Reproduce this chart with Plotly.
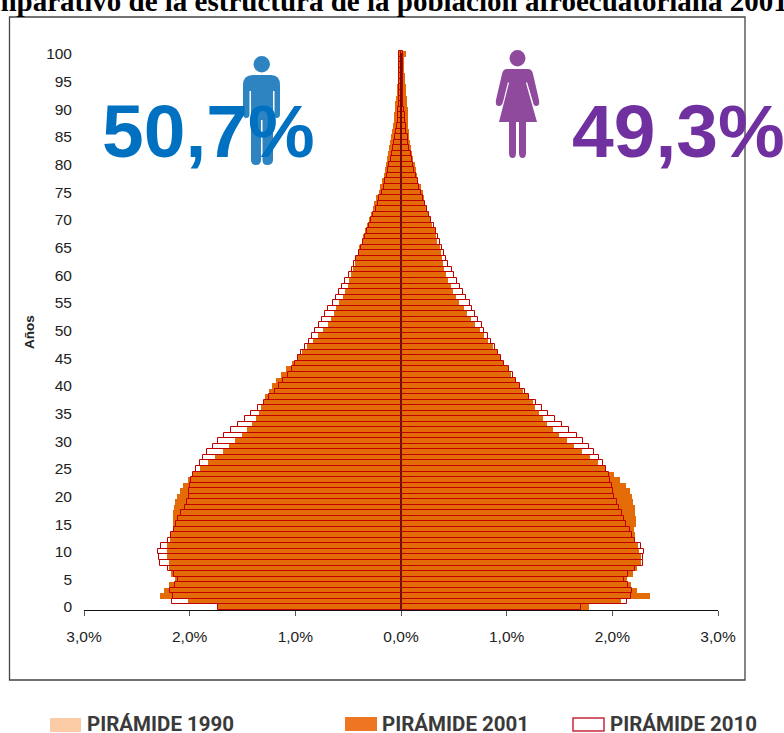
import plotly.graph_objects as go

ages = list(range(0, 101))

hombres_2001 = [1.733,2.017,2.285,2.244,2.2,2.136,2.18,2.2,2.2,2.21,2.21,2.21,2.19,2.178,2.16,2.16,2.16,2.16,2.15,2.14,
 2.12,2.09,2.06,2.02,1.97,1.898,1.829,1.756,1.687,1.624,1.567,1.504,1.454,1.413,1.372,1.34,1.325,1.30,1.283,1.252,
 1.22,1.183,1.138,1.088,1.034,.987,.94,.886,.836,.785,.735,.69,.659,.63,.612,.583,.552,.53,.498,.489,
 .473,.457,.432,.425,.40,.394,.369,.356,.337,.318,.306,.287,.268,.255,.236,.208,.196,.183,.164,.15,
 .14,.133,.125,.115,.104,.095,.082,.076,.069,.063,.06,.054,.047,.041,.035,.028,.022,.019,.016,.016,.032]
mujeres_2001 = [1.78,2.08,2.355,2.235,2.175,2.14,2.2,2.23,2.27,2.27,2.25,2.24,2.21,2.215,2.205,2.22,2.225,2.215,2.21,2.2,
 2.185,2.165,2.128,2.07,2.012,1.94,1.86,1.788,1.71,1.637,1.567,1.498,1.435,1.38,1.34,1.302,1.27,1.246,1.208,1.157,
 1.13,1.078,1.04,1.018,.978,.946,.915,.867,.82,.785,.744,.703,.665,.62,.593,.552,.523,.492,.473,.448,
 .426,.41,.40,.388,.378,.366,.34,.328,.322,.296,.271,.252,.236,.227,.221,.208,.189,.164,.151,.145,
 .136,.117,.104,.098,.088,.079,.073,.066,.066,.066,.063,.06,.054,.047,.047,.041,.038,.032,.032,.032,.047]
hombres_2010 = [1.733,2.168,2.159,2.19,2.136,2.11,2.15,2.206,2.278,2.29,2.30,2.27,2.206,2.178,2.15,2.127,2.11,2.08,2.045,2.027,
 2.007,2.007,2.0,1.99,1.97,1.936,1.905,1.873,1.835,1.78,1.73,1.671,1.608,1.542,1.476,1.416,1.356,1.30,1.246,1.195,
 1.157,1.12,1.072,1.034,1.003,.978,.946,.911,.873,.842,.813,.779,.747,.722,.69,.646,.618,.59,.558,.527,
 .495,.467,.445,.425,.40,.375,.356,.337,.318,.30,.287,.268,.236,.22,.205,.183,.164,.151,.133,.12,
 .11,.098,.085,.073,.063,.054,.047,.04,.03,.028,.025,.022,.022,.02,.016,.016,.016,.016,.016,.016,.016]
mujeres_2010 = [1.703,2.138,2.175,2.19,2.15,2.11,2.15,2.21,2.29,2.29,2.30,2.27,2.21,2.19,2.165,2.13,2.11,2.09,2.06,2.04,
 2.02,2.01,2.0,1.977,1.965,1.94,1.908,1.876,1.823,1.78,1.725,1.662,1.592,1.52,1.46,1.387,1.33,1.277,1.215,1.17,
 1.13,1.09,1.056,1.018,.978,.946,.915,.886,.85,.82,.79,.763,.732,.70,.669,.65,.618,.59,.558,.527,
 .498,.479,.448,.429,.404,.385,.366,.347,.328,.309,.284,.265,.243,.227,.205,.189,.17,.158,.139,.126,
 .117,.10,.09,.08,.07,.063,.047,.047,.035,.035,.025,.022,.022,.02,.016,.016,.016,.016,.016,.016,.016]

x_ticks = [-3, -2, -1, 0, 1, 2, 3]
x_labels = ["3,0%", "2,0%", "1,0%", "0,0%", "1,0%", "2,0%", "3,0%"]
y_ticks = list(range(0, 101, 5))

W, H = 784, 733
L, R, T, B = 84, 718, 50, 610

def pxx(v):
    return (v - L) / (R - L)

def pxy(v):
    return (B - v) / (B - T)

def path(cmds):
    out = []
    for c in cmds:
        if isinstance(c, str):
            out.append(c)
        else:
            out.append(f"{pxx(c[0]):.5f},{pxy(c[1]):.5f}")
    return " ".join(out)

def neg(v):
    return [-a for a in v]

ORANGE = "#E36C09"
RED = "#C00000"

fig = go.Figure()
fig.add_bar(y=ages, x=neg(hombres_2001), orientation="h", width=1, marker=dict(color=ORANGE, line=dict(width=0)), name="2001 H")
fig.add_bar(y=ages, x=mujeres_2001, orientation="h", width=1, marker=dict(color=ORANGE, line=dict(width=0)), name="2001 M")
fig.add_bar(y=ages, x=neg(hombres_2010), orientation="h", width=1, marker=dict(color="rgba(0,0,0,0)", line=dict(width=1, color=RED)), name="2010 H")
fig.add_bar(y=ages, x=mujeres_2010, orientation="h", width=1, marker=dict(color="rgba(0,0,0,0)", line=dict(width=1, color=RED)), name="2010 M")

BLUE_ICON = "#2E84C0"
PURPLE_ICON = "#8F4A9E"

man = [
    "M", (243, 85), "Q", (243, 75), (253, 75), "L", (271, 75), "Q", (280, 75), (280, 85),
    "L", (280, 114), "Q", (280, 118), (277, 118), "Q", (274.5, 118), (274.5, 114), "L", (274.5, 91), "L", (273, 91),
    "L", (273, 160), "Q", (273, 165), (267, 165), "Q", (262.5, 165), (262.5, 160), "L", (262.5, 120), "L", (261, 120),
    "L", (261, 160), "Q", (261, 165), (256, 165), "Q", (251, 165), (251, 160), "L", (251, 91), "L", (249.5, 91),
    "L", (249.5, 114), "Q", (249.5, 118), (246.5, 118), "Q", (243, 118), (243, 114), "Z",
]
woman = [
    "M", (507, 69), "L", (528, 69), "Q", (532, 69), (533, 74), "L", (539, 100), "Q", (540, 106), (536, 106),
    "Q", (533.5, 106), (533, 102), "L", (527, 82), "L", (526, 83), "L", (537, 122), "L", (526, 122), "L", (526, 153),
    "Q", (526, 158), (522.5, 158), "Q", (519, 158), (519, 153), "L", (519, 122), "L", (516, 122), "L", (516, 153),
    "Q", (516, 158), (512.5, 158), "Q", (509, 158), (509, 153), "L", (509, 122), "L", (499, 122), "L", (509, 83), "L", (508, 82),
    "L", (503, 102), "Q", (502, 106), (499, 106), "Q", (495, 106), (496, 100), "L", (502, 74), "Q", (503, 69), (507, 69), "Z",
]

shapes = [
    dict(type="rect", xref="paper", yref="paper", x0=pxx(9.5), x1=pxx(745), y0=pxy(680), y1=pxy(17),
         line=dict(color="#444444", width=1.3), layer="below"),
    dict(type="line", xref="x", yref="paper", x0=0, x1=0, y0=0, y1=pxy(53), line=dict(color="#7A0A0A", width=2), layer="above"),
    dict(type="path", xref="paper", yref="paper", path=path(man), fillcolor=BLUE_ICON, line=dict(width=0), layer="above"),
    dict(type="circle", xref="paper", yref="paper", x0=pxx(253.5), x1=pxx(270), y0=pxy(72.5), y1=pxy(56),
         fillcolor=BLUE_ICON, line=dict(width=0), layer="above"),
    dict(type="path", xref="paper", yref="paper", path=path(woman), fillcolor=PURPLE_ICON, line=dict(width=0), layer="above"),
    dict(type="circle", xref="paper", yref="paper", x0=pxx(509.5), x1=pxx(525.5), y0=pxy(66.5), y1=pxy(50),
         fillcolor=PURPLE_ICON, line=dict(width=0), layer="above"),
    dict(type="rect", xref="paper", yref="paper", x0=pxx(50), x1=pxx(81), y0=pxy(732), y1=pxy(718),
         fillcolor="#FBCBA6", line=dict(width=0)),
    dict(type="rect", xref="paper", yref="paper", x0=pxx(345), x1=pxx(377), y0=pxy(731), y1=pxy(717),
         fillcolor="#EE7623", line=dict(width=0)),
    dict(type="rect", xref="paper", yref="paper", x0=pxx(573), x1=pxx(604), y0=pxy(731), y1=pxy(718),
         fillcolor="white", line=dict(color="#C8283C", width=1.5)),
]

def note(text, x, y, size, color, family="Liberation Sans", bold=True, xanchor="left", yanchor="middle", angle=0):
    t = f"<b>{text}</b>" if bold else text
    return dict(text=t, xref="paper", yref="paper", x=pxx(x), y=pxy(y), showarrow=False, xanchor=xanchor, yanchor=yanchor,
                textangle=angle, font=dict(size=size, color=color, family=family), align="left",
                borderpad=0, borderwidth=0)

LEG = "Roboto"
annotations = [
    note("Comparativo de la estructura de la población afroecuatoriana 2001-2010", -43, 1, 29, "#000000",
         family="Liberation Serif", yanchor="middle"),
    note("50,7%", 102, 131, 75, "#0070C0"),
    note("49,3%", 572, 131, 75, "#7030A0"),
    note("Años", 29, 332, 13.5, "#222222", xanchor="center", angle=-90),
    note("PIRÁMIDE 1990", 87, 724, 20.5, "#3A3A3A", family=LEG),
    note("PIRÁMIDE 2001", 382, 724, 20.5, "#3A3A3A", family=LEG),
    note("PIRÁMIDE 2010", 610, 724, 20.5, "#3A3A3A", family=LEG),
]

fig.update_layout(
    width=W, height=H, barmode="overlay", bargap=0, showlegend=False,
    paper_bgcolor="white", plot_bgcolor="white",
    margin=dict(l=L, r=W - R, t=T, b=H - B, pad=0),
    font=dict(family="Liberation Sans", size=15, color="#222222"),
    shapes=shapes, annotations=annotations,
    xaxis=dict(range=[-3, 3], tickvals=x_ticks, ticktext=x_labels, showgrid=False, zeroline=False,
               showline=True, linecolor="#111111", linewidth=1.3, ticks="outside", ticklen=5, tickcolor="#555555",
               tickwidth=1, tickfont=dict(size=15.5), ticklabelstandoff=7),
    yaxis=dict(range=[-0.54, 100.73], tickvals=y_ticks, showgrid=False, zeroline=False, showline=False,
               ticks="", ticklabelstandoff=11, tickfont=dict(size=15.5)),
)

fig.write_html("out.html", config={"displayModeBar": False}, post_script="document.body.style.margin='0';")
